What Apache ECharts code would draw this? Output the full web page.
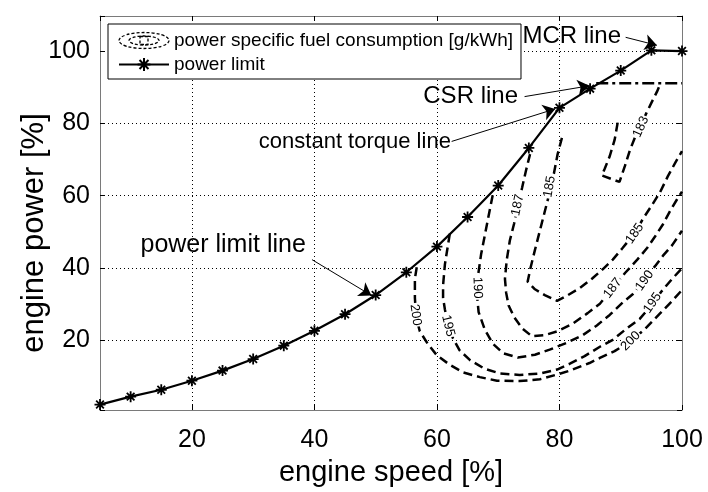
<!DOCTYPE html>
<html>
<head>
<meta charset="utf-8">
<script src="https://cdn.jsdelivr.net/npm/echarts@6/dist/echarts.min.js"></script>
<style>
  html, body { margin: 0; padding: 0; background: #fff; }
  #chart { width: 708px; height: 492px; }
</style>
</head>
<body>
<div id="chart"></div>
<script>
// engine speed [%] of the power limit markers
const speed = [5, 10, 15, 20, 25, 30, 35, 40, 45, 50, 55, 60, 65, 70, 75, 80, 85, 90, 95, 100]
// engine power [%] along the power limit line
const powerLimit = [2.2, 4.4, 6.3, 8.8, 11.6, 14.8, 18.5, 22.6, 27.2, 32.5, 38.8, 45.9, 54.1, 62.8, 73.2, 84.3, 89.6, 94.6, 100.2, 100]
// CSR line (dash-dot)
const csrLine = [[86, 91.1], [100, 91.1]]

// fuel consumption contours [speed, power]
const c200 = [[56.7, 40.2], [56.4, 37.0], [56.4, 31.7], [56.6, 26.4], [57.2, 22.5], [58.5, 19.0], [60.0, 15.8], [62.1, 13.2], [64.3, 11.1], [67.0, 9.8], [69.8, 8.8], [73.5, 8.7], [76.8, 9.2], [79.6, 10.5], [81.7, 11.6], [84.9, 13.7], [86.6, 15.1], [89.0, 17.0], [91.5, 19.6], [93.9, 23.0], [96.3, 27.2], [98.3, 30.7], [100, 33.9]]
const c195 = [[62.1, 49.5], [61.6, 44.2], [61.3, 41.0], [61.0, 35.2], [61.0, 31.7], [61.3, 28.5], [61.8, 24.3], [62.6, 20.6], [63.7, 17.2], [65.4, 14.5], [67.8, 12.1], [70.3, 10.8], [73.5, 10.4], [76.8, 10.8], [79.6, 11.9], [81.7, 13.5], [84.1, 15.6], [86.6, 18.2], [88.7, 20.1], [91.0, 23.3], [93.1, 25.9], [95.2, 30.1], [96.7, 33.6], [98.3, 36.8], [100, 39.9]]
const c190 = [[69.1, 60.1], [68.5, 55.0], [67.8, 48.9], [67.2, 43.7], [66.7, 37.8], [66.5, 33.1], [66.8, 27.8], [67.8, 23.0], [69.1, 19.1], [70.8, 16.4], [73.2, 15.2], [76.0, 16.0], [78.4, 17.4], [81.2, 19.3], [83.8, 21.4], [86.1, 24.1], [88.2, 27.0], [90.3, 30.4], [92.0, 32.8], [93.9, 36.8], [95.6, 40.5], [96.9, 43.4], [98.4, 46.3], [100, 50.3]]
const c187 = [[75.2, 71.5], [74.5, 66.7], [73.9, 62.2], [73.2, 57.4], [72.6, 52.3], [71.9, 47.6], [71.4, 42.3], [71.1, 37.0], [71.3, 33.1], [71.7, 29.6], [72.6, 26.4], [73.9, 23.3], [75.5, 21.1], [77.6, 21.4], [79.7, 22.5], [82.2, 24.6], [84.6, 27.5], [86.6, 30.1], [88.7, 34.4], [90.7, 38.6], [92.7, 42.3], [94.3, 45.5], [95.6, 48.7], [96.9, 52.1], [98.0, 55.6], [99.2, 59.0], [100, 61.1]]
const c185 = [[80.4, 76.0], [79.7, 71.5], [79.1, 66.2], [78.4, 60.9], [77.6, 55.6], [76.8, 50.3], [76.0, 45.0], [75.3, 40.2], [74.8, 36.2], [76.0, 34.1], [77.6, 32.5], [79.6, 30.9], [81.2, 32.3], [83.3, 34.4], [85.3, 37.0], [87.1, 39.7], [88.7, 42.3], [90.3, 45.5], [92.3, 49.7], [93.6, 53.5], [95.1, 57.4], [96.4, 60.9], [97.7, 65.4], [99.0, 69.4], [100, 72.3]]
const c183 = [[89.5, 80.2], [89.0, 75.4], [88.2, 70.9], [87.4, 67.5], [86.9, 65.6], [88.5, 64.6], [89.8, 63.8], [90.7, 68.3], [91.5, 72.6], [92.3, 76.0], [93.3, 79.5], [94.2, 82.9], [95.1, 86.0], [95.9, 88.7], [96.5, 91.1]]
const contours = [c200, c195, c190, c187, c185, c183]

// inline contour labels [speed, power, text] and their angles
const contourLabels = [
  [56.5, 27.0, '200'], [61.8, 24.0, '195'], [66.6, 34.5, '190'], [73.2, 57.4, '187'], [78.4, 62.5, '185'],
  [93.3, 79.0, '183'], [92.3, 49.5, '185'], [88.7, 34.4, '187'], [93.9, 36.5, '190'], [95.2, 30.3, '195'], [91.6, 19.8, '200']
]
const labelAngles = [-82, -76, -88, 78, 80, 66, 55, 52, 55, 55, 45]

// annotation texts and arrows (from -> to)
const noteText = ['MCR line', 'CSR line', 'constant torque line', 'power limit line']
const notePos = [[82.0, 104.1], [65.5, 87.4], [46.6, 74.9], [25.1, 46.3]]
const noteSize = [24, 24, 22, 25]
const arrowFrom = [[90.8, 103.8], [74.3, 87.4], [62.4, 75.0], [39.6, 42.3]]
const arrowTo = [[95.9, 101.6], [84.9, 90.4], [79.3, 84.0], [49.3, 32.4]]

const FONT = '"Liberation Sans", Arial, Helvetica, sans-serif'
const PSFC = 'power specific fuel consumption [g/kWh]'
const asterisk = 'path://M5 0L5 10M0 5L10 5M1.5 1.5L8.5 8.5M8.5 1.5L1.5 8.5'
const contourIcon = 'path://M0 8A25 8 0 1 1 50 8A25 8 0 1 1 0 8ZM10 8A15 4.5 0 1 1 40 8A15 4.5 0 1 1 10 8ZM21 4L29 4L29 12L21 12Z'

const chart = echarts.init(document.getElementById('chart'))

const tickLabel = (v) => (v % 20 === 0 ? String(v) : '')

const baseAxis = {
  type: 'value',
  axisLine: { show: true, onZero: false, lineStyle: { color: '#7a7a7a', width: 1 } },
  axisTick: { show: true, inside: true, length: 5, lineStyle: { color: '#000' } },
}

const option = {
  backgroundColor: '#fff',
  animation: false,
  grid: { left: 100, right: 26, top: 16, bottom: 65 },
  legend: {
    orient: 'vertical',
    left: 108,
    top: 24,
    padding: [7, 8, 5, 10],
    itemWidth: 50,
    itemHeight: 16,
    itemGap: 5,
    backgroundColor: '#fff',
    borderColor: '#000',
    borderWidth: 1,
    textStyle: { fontFamily: FONT, fontSize: 19, color: '#000' },
    data: [
      { name: PSFC, icon: contourIcon, itemStyle: { color: '#fff', borderColor: '#000', borderWidth: 1.3, borderType: [3, 2] } },
      { name: 'power limit' },
    ],
  },
  xAxis: [
    {
      ...baseAxis,
      min: 5,
      max: 100,
      position: 'bottom',
      axisLabel: { formatter: tickLabel, color: '#000', fontFamily: FONT, fontSize: 25, margin: 18 },
      splitLine: { show: true, lineStyle: { color: '#000', type: [1, 3], width: 1 } },
      name: 'engine speed [%]',
      nameLocation: 'middle',
      nameGap: 48,
      nameMoveOverlap: false,
      nameTextStyle: { color: '#000', fontFamily: FONT, fontSize: 29 },
    },
    { ...baseAxis, min: 5, max: 100, position: 'top', axisLabel: { show: false }, splitLine: { show: false } },
  ],
  yAxis: [
    {
      ...baseAxis,
      min: 0.7,
      max: 109.7,
      position: 'left',
      axisLabel: { formatter: tickLabel, color: '#000', fontFamily: FONT, fontSize: 25, margin: 10 },
      splitLine: { show: true, lineStyle: { color: '#000', type: [1, 3], width: 1 } },
      name: 'engine power [%]',
      nameLocation: 'middle',
      nameGap: 50,
      nameMoveOverlap: false,
      nameTextStyle: { color: '#000', fontFamily: FONT, fontSize: 31, padding: [0, 40, 0, 0] },
    },
    { ...baseAxis, min: 0.7, max: 109.7, position: 'right', axisLabel: { show: false }, splitLine: { show: false } },
  ],
  series: [
    ...contours.map((c) => ({
      name: PSFC,
      type: 'line',
      data: c,
      symbol: 'none',
      silent: true,
      z: 3,
      itemStyle: { color: '#000' },
      lineStyle: { color: '#000', width: 2.5, type: [9, 5] },
    })),
    {
      name: 'CSR',
      type: 'line',
      data: csrLine,
      symbol: 'none',
      silent: true,
      z: 3,
      lineStyle: { color: '#000', width: 2.5, type: [12, 4, 3, 4] },
    },
    {
      name: 'power limit',
      type: 'line',
      data: speed.map((s, i) => [s, powerLimit[i]]),
      symbol: asterisk,
      symbolSize: 11,
      z: 4,
      itemStyle: { color: '#000', borderColor: '#000', borderWidth: 1.8 },
      lineStyle: { color: '#000', width: 2.2 },
    },
    {
      name: 'labels',
      type: 'scatter',
      silent: true,
      z: 6,
      symbolSize: 1,
      itemStyle: { color: 'rgba(0,0,0,0)', opacity: 1 },
      data: contourLabels.map((l, i) => ({
        value: [l[0], l[1]],
        label: {
          show: true,
          position: 'inside',
          formatter: l[2],
          rotate: labelAngles[i],
          color: '#000',
          fontFamily: FONT,
          fontSize: 13,
          backgroundColor: '#fff',
          padding: [0, 1],
        },
      })),
    },
    {
      name: 'notes',
      type: 'scatter',
      silent: true,
      z: 7,
      symbolSize: 1,
      itemStyle: { color: 'rgba(0,0,0,0)', opacity: 1 },
      data: noteText.map((t, i) => ({
        value: notePos[i],
        label: { show: true, position: 'inside', formatter: t, color: '#000', fontFamily: FONT, fontSize: noteSize[i] },
      })),
      markLine: {
        silent: true,
        symbol: ['none', 'arrow'],
        symbolSize: 12,
        label: { show: false },
        lineStyle: { color: '#000', width: 1, type: 'solid', opacity: 1 },
        data: arrowFrom.map((f, i) => [{ coord: f }, { coord: arrowTo[i] }]),
      },
    },
  ],
}

chart.setOption(option)
</script>
</body>
</html>
